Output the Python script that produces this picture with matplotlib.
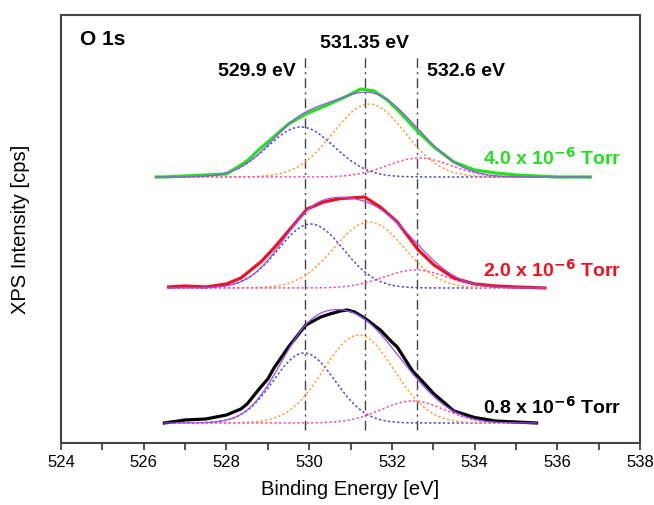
import numpy as np
import matplotlib.pyplot as plt

e_green = [526.3, 526.5, 527.0, 527.5, 528.0, 528.35, 528.5, 528.83, 529.0, 529.39, 529.5, 529.92,
           530.44, 530.92, 531.25, 531.57, 531.89, 532.21, 532.64, 533.02, 533.5, 534.0, 534.5,
           535.0, 535.5, 536.0, 536.5, 536.8]
i_green = [0, 0, 1, 2, 3, 12, 16, 29, 35, 49, 53, 63, 72, 81, 88, 86, 77, 64, 45, 30, 15, 7, 4,
           2, 1, 0, 0, 0]

e_red = [526.6, 527.0, 527.5, 528.0, 528.35, 528.83, 529.15, 529.5, 529.95, 530.35, 530.76, 531.0,
         531.34, 531.72, 532.13, 532.64, 533.02, 533.5, 534.0, 534.5, 535.0, 535.7]
i_red = [1, 2, 1, 4, 10, 26, 40, 57, 79, 86, 89.5, 90, 91, 81, 66, 38, 23, 10, 4, 2, 1, 0]

e_black = [526.5, 527.0, 527.5, 528.0, 528.35, 528.5, 528.83, 529.0, 529.15, 529.5, 529.92, 530.28,
           530.5, 530.76, 530.92, 531.1, 531.34, 531.5, 531.72, 532.0, 532.13, 532.5, 532.64,
           533.02, 533.5, 534.0, 534.5, 535.0, 535.5]
i_black = [0, 3, 4, 8, 14, 19, 36, 44, 55, 76, 98, 106, 109, 112, 113, 111, 105, 100, 93, 81, 76,
           52, 46, 29, 12, 5.5, 2, 1, 0]

# fitted components: centre [eV], height, FWHM [eV]  (order: 529.9 / 531.35 / 532.6 peaks)
c_green, h_green, w_green = [529.8, 531.45, 532.66], [50, 73, 19], [1.9, 2.05, 1.8]
c_red, h_red, w_red = [530.04, 531.45, 532.57], [64, 66, 18], [1.85, 2.0, 1.8]
c_black, h_black, w_black = [529.88, 531.2, 532.5], [70, 88, 22], [1.75, 2.0, 1.8]

# vertical offsets of the stacked spectra
offsets = [266, 155, 20]
labels = ['4.0 x 10$^{-6}$ Torr', '2.0 x 10$^{-6}$ Torr', '0.8 x 10$^{-6}$ Torr']
label_y = [285, 173, 36]
colors = ['#22e01e', '#f0101e', 'black']

peak_pos = [529.9, 531.35, 532.6]
peak_txt = ['529.9 eV', '531.35 eV', '532.6 eV']

comp_colors = ['#4a4ad6', '#ffa040', '#ff4da6']

plt.rcParams['font.family'] = ['Liberation Sans', 'DejaVu Sans']
plt.rcParams['mathtext.default'] = 'bf'

fig = plt.figure(figsize=(6.54, 5.05), dpi=100)
ax = fig.add_axes([0.0933, 0.1228, 0.8853, 0.8475])

spectra = [(e_green, i_green, c_green, h_green, w_green),
           (e_red, i_red, c_red, h_red, w_red),
           (e_black, i_black, c_black, h_black, w_black)]

for k, (e, inten, cen, hgt, fw) in enumerate(spectra):
    off = offsets[k]
    xx = np.linspace(e[0], e[-1], 400)
    total = np.zeros_like(xx)
    for j in range(3):
        sig = fw[j] / 2.3548
        comp = hgt[j] * np.exp(-0.5 * ((xx - cen[j]) / sig) ** 2)
        total += comp
        ax.plot(xx, comp + off, ls=(0, (1.5, 1.5)), lw=1.1, color=comp_colors[j], zorder=2)
    ax.plot(e, np.array(inten) + off, color=colors[k], lw=2.3, zorder=3)
    ax.plot(xx, total + off, color='#9a4dff', lw=0.9, zorder=4)
    ax.text(537.55, label_y[k], labels[k], color=colors[k], fontsize=14,
            fontweight='bold', ha='right', va='center')

# dash-dot guide lines at the component positions
for p in peak_pos:
    top = 388 if p == 531.35 else 386
    ax.plot([p, p], [13, top], color='#444444', lw=1.0, ls=(0, (7, 3, 1.5, 3)), zorder=1)

ax.text(531.35, 399, peak_txt[1], fontsize=14, fontweight='bold', ha='center', va='center')
ax.text(529.68, 371, peak_txt[0], fontsize=14, fontweight='bold', ha='right', va='center')
ax.text(532.86, 371, peak_txt[2], fontsize=14, fontweight='bold', ha='left', va='center')
ax.text(524.45, 403, 'O 1s', fontsize=15, fontweight='bold', ha='left', va='center')

ax.set_xlim(524, 538)
ax.set_ylim(0, 428)
ax.set_xticks(np.arange(524, 539, 2))
ax.set_xticks(np.arange(525, 538, 2), minor=True)
ax.set_yticks([])
ax.tick_params(axis='x', which='both', direction='out', length=5, width=1.2,
               labelsize=12, color='#333333')
for s in ax.spines.values():
    s.set_color('#444444')
    s.set_linewidth(1.5)

ax.set_xlabel('Binding Energy [eV]', fontsize=14.5, labelpad=7)
ax.set_ylabel('XPS Intensity [cps]', fontsize=14.5, labelpad=22)

fig.savefig('out.png', dpi=100)
